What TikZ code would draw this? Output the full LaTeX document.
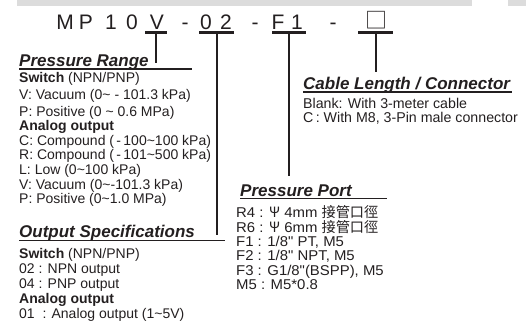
\documentclass[tikz,border=0pt]{standalone}
\usepackage{fontspec}
\setmainfont{Liberation Sans}
\newfontfamily\bodyfont{Liberation Sans}
\newfontfamily\portfont[FakeStretch=1.05]{Liberation Sans}
\newfontfamily\cjk{Noto Sans CJK TC}
\definecolor{ink}{HTML}{231F20}
\definecolor{topbar}{HTML}{DCDCDC}

\begin{document}
\begin{tikzpicture}[x=1pt, y=-1pt, text=ink,
  digit/.style={font=\fontsize{21}{21}\selectfont, inner sep=0pt, anchor=base},
  heading/.style={font=\fontsize{17}{17}\selectfont\bfseries\itshape, inner sep=0pt, anchor=base west},
  entries/.style={font=\bodyfont\fontsize{14}{14.6}\selectfont, align=left, inner sep=0pt, anchor=north west},
  uline/.style={draw=ink, line width=1.3pt},
  codebar/.style={draw=ink, line width=2.6pt},
  leader/.style={draw=ink, line width=2pt}]
\useasboundingbox (0,0) rectangle (526,324);
\fill[topbar] (17,0) rectangle (472,5.5);
\fill[topbar] (508,0) rectangle (526,5.5);

% model code
\node[digit] (cM) at (65,29.5) {M};
\node[digit] (cP) at (86,29.5) {P};
\node[digit] (cOne) at (111,29.5) {1};
\node[digit] (cZero) at (132,29.5) {0};
\node[digit] (cV) at (157,29.5) {V};
\node[digit] (dashA) at (185,29.5) {-};
\node[digit] (cOutA) at (206,29.5) {0};
\node[digit] (cOutB) at (226,29.5) {2};
\node[digit] (dashB) at (255,29.5) {-};
\node[digit] (cF) at (278,29.5) {F};
\node[digit] (cFOne) at (297,29.5) {1};
\node[digit] (dashC) at (333,29.5) {-};
\node[digit, font=\cjk\fontsize{22}{22}\selectfont] (cBox) at (376,28.5) {□};

\draw[codebar] (145,32.7) -- (167,32.7);
\draw[codebar] (199,32.7) -- (234,32.7);
\draw[codebar] (272,32.7) -- (306,32.7);
\draw[codebar] (358,32.7) -- (393,32.7);
\coordinate (vBar) at (156,33);
\coordinate (outBar) at (217,33);
\coordinate (portBar) at (289,33);
\coordinate (cableBar) at (376,33);

% pressure range
\node[heading] (prHead) at (19,66) {Pressure Range};
\draw[uline] (19,69) -- (192,69);
\coordinate (prEnd) at (156,63);
\node[entries] (prList) at (19,72.5) {\textbf{Switch} (NPN/PNP)\\[2.5pt]
V: Vacuum (0\textasciitilde{} - 101.3 kPa)\\[1.5pt]
P: Positive (0 \textasciitilde{} 0.6 MPa)\\
\textbf{Analog output}\\
C: Compound (\,-\,100\textasciitilde100 kPa)\\
R: Compound (\,-\,101\textasciitilde500 kPa)\\
L: Low (0\textasciitilde100 kPa)\\
V: Vacuum (0\textasciitilde-101.3 kPa)\\
P: Positive (0\textasciitilde1.0 MPa)};

% output specifications
\node[heading] (osHead) at (19,237.5) {Output Specifications};
\draw[uline] (19,240.5) -- (225,240.5);
\coordinate (osEnd) at (217,235);
\node[entries, font=\bodyfont\fontsize{14}{14.8}\selectfont] (osList) at (19,248.5) {\textbf{Switch} (NPN/PNP)\\
02 : NPN output\\
04 : PNP output\\
\textbf{Analog output}\\
01\ \ : Analog output (1\textasciitilde5V)};

% pressure port
\node[heading] (ppHead) at (240,196) {Pressure Port};
\draw[uline] (240,198.5) -- (387,198.5);
\coordinate (ppEnd) at (289,176);
\node[entries, font=\portfont\fontsize{14.2}{14.4}\selectfont] (ppList) at (236,205.5) {R4 : {\cjk Ψ} 4mm {\cjk 接管口徑}\\
R6 : {\cjk Ψ} 6mm {\cjk 接管口徑}\\
F1 : 1/8" PT, M5\\
F2 : 1/8" NPT, M5\\
F3 : G1/8"(BSPP), M5\\
M5 : M5*0.8};

% cable length
\node[heading] (clHead) at (303,89) {Cable Length / Connector};
\draw[uline] (303,92) -- (512,92);
\coordinate (clEnd) at (376,72);
\node[entries, font=\bodyfont\fontsize{14.2}{14}\selectfont] (clList) at (303,98.5) {Blank: With 3-meter cable\\
C\,:\ With M8, 3-Pin male connector};

\draw[leader] (vBar) -- (prEnd);
\draw[leader] (outBar) -- (osEnd);
\draw[leader] (portBar) -- (ppEnd);
\draw[leader] (cableBar) -- (clEnd);
\end{tikzpicture}
\end{document}
